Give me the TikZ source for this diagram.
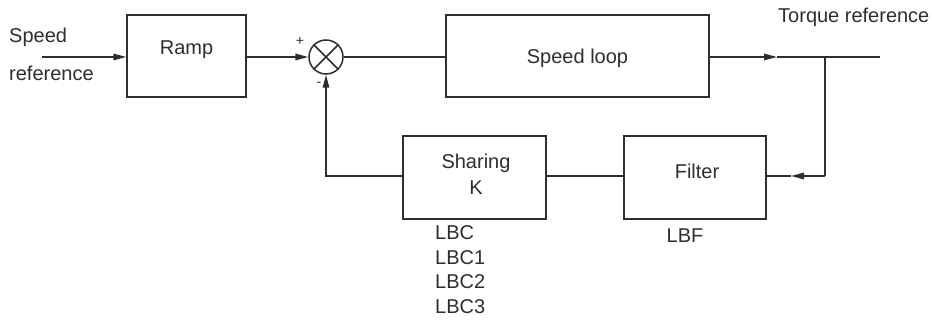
\documentclass[tikz,border=0pt]{standalone}
\usepackage{fontspec}
\setmainfont{Liberation Sans}
\usetikzlibrary{arrows.meta}
\definecolor{ink}{HTML}{2E2E2E}
\begin{document}
\begin{tikzpicture}[x=1pt,y=-1pt,
  every node/.style={text=ink},
  wire/.style={draw=ink,line width=1.5pt},
  arr/.style={wire,-{Triangle[length=13pt,width=6.5pt]}},
  blk/.style={draw=ink,line width=1.5pt,rectangle,inner sep=0pt},
  txt/.style={font=\fontsize{20}{24}\selectfont,inner sep=0pt},
  sgn/.style={font=\fontsize{14}{16}\selectfont,inner sep=0pt}]
\useasboundingbox[fill=white] (0,0) rectangle (932,320);
% blocks
\node[blk,minimum width=119pt,minimum height=82pt] (ramp) at (186.5,56) {};
\node[blk,minimum width=263pt,minimum height=82pt] (sl) at (577.5,56) {};
\node[blk,minimum width=143pt,minimum height=83pt] (sh) at (474.5,177.5) {};
\node[blk,minimum width=142pt,minimum height=83pt] (fi) at (695,177.5) {};
\node[draw=ink,line width=1.5pt,circle,minimum size=34pt,inner sep=0pt] (sum) at (326,57) {};
\draw[wire] (sum.north west) -- (sum.south east) (sum.north east) -- (sum.south west);
% texts
\node[txt,anchor=base west] (t1) at (9,43) {Speed};
\node[txt,anchor=base west] (t2) at (9,81) {reference};
\node[txt,anchor=base] (t3) at (186.5,55) {Ramp};
\node[txt,anchor=base] (t4) at (577.5,64) {Speed loop};
\node[txt,anchor=base west] (t5) at (778,23) {Torque reference};
\node[txt,anchor=base] (t6) at (476,169) {Sharing};
\node[txt,anchor=base] (t7) at (476,195) {K};
\node[txt,anchor=base] (t8) at (697,179) {Filter};
\node[txt,anchor=base] (t9) at (685,243) {LBF};
\node[txt,anchor=base west] (l0) at (435,240) {LBC};
\node[txt,anchor=base west] (l1) at (435,264.5) {LBC1};
\node[txt,anchor=base west] (l2) at (435,289) {LBC2};
\node[txt,anchor=base west] (l3) at (435,313.5) {LBC3};
\node[sgn] (plus) at (300,41) {+};
\node[sgn] (minus) at (319,84) {-};
% connectors
\coordinate (in) at (42,57);
\coordinate (ta) at (777,57);
\coordinate (j) at (825,57);
\coordinate (out) at (880,57);
\coordinate (c1) at (825,176);
\coordinate (fa) at (791,176);
\draw[arr] (in) -- (ramp.west|-in);
\draw[arr] (ramp.east|-in) -- (sum.west);
\draw[wire] (sum.east) -- (sl.west|-sum);
\draw[arr] (sl.east|-ta) -- (ta);
\draw[wire] (ta) -- (out);
\draw[wire] (j) -- (c1);
\draw[arr] (c1) -- (fa);
\draw[wire] (fa) -- (fi.east|-fa);
\draw[wire] (fi.west|-fa) -- (sh.east|-fa);
\draw[arr] (sh.west|-fa) -| (sum.south);
\end{tikzpicture}
\end{document}
